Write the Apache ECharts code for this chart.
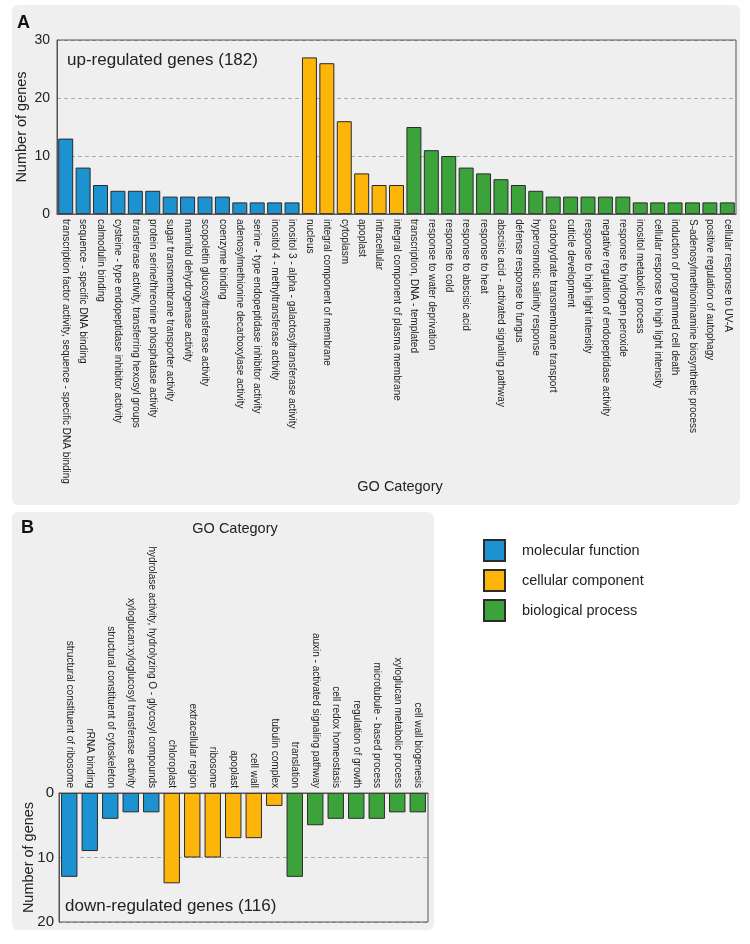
<!DOCTYPE html>
<html>
<head>
<meta charset="utf-8">
<script src="https://cdn.jsdelivr.net/npm/echarts@6/dist/echarts.min.js"></script>
<style>
html,body{margin:0;padding:0;background:#fff;}
#chart{width:750px;height:944px;}
</style>
</head>
<body>
<div id="chart"></div>
<script>
// ---- Panel A: up-regulated genes ----
var upMFCats = ['transcription factor activity, sequence - specific DNA binding','sequence - specific DNA binding','calmodulin binding','cysteine - type endopeptidase inhibitor activity','transferase activity, transferring hexosyl groups','protein serine/threonine phosphatase activity','sugar transmembrane transporter activity','mannitol dehydrogenase activity','scopoletin glucosyltransferase activity','coenzyme binding','adenosylmethionine decarboxylase activity','serine - type endopeptidase inhibitor activity','inositol 4 - methyltransferase activity','inositol 3 - alpha - galactosyltransferase activity'];
var upMFVals = [13,8,5,4,4,4,3,3,3,3,2,2,2,2];
var upCCCats = ['nucleus','integral component of membrane','cytoplasm','apoplast','intracellular','integral component of plasma membrane'];
var upCCVals = [27,26,16,7,5,5];
var upBPCats = ['transcription, DNA - templated','response to water deprivation','response to cold','response to abscisic acid','response to heat','abscisic acid - activated signaling pathway','defense response to fungus','hyperosmotic salinity response','carbohydrate transmembrane transport','cuticle development','response to high light intensity','negative regulation of endopeptidase activity','response to hydrogen peroxide','inositol metabolic process','cellular response to high light intensity','induction of programmed cell death','S-adenosylmethioninamine biosynthetic process','positive regulation of autophagy','cellular response to UV-A'];
var upBPVals = [15,11,10,8,7,6,5,4,3,3,3,3,3,2,2,2,2,2,2];
var upTicks = [0,10,20,30];

// ---- Panel B: down-regulated genes ----
var downMFCats = ['structural constituent of ribosome','rRNA binding','structural constituent of cytoskeleton','xyloglucan:xyloglucosyl transferase activity','hydrolase activity, hydrolyzing O - glycosyl compounds'];
var downMFVals = [13,9,4,3,3];
var downCCCats = ['chloroplast','extracellular region','ribosome','apoplast','cell wall','tubulin complex'];
var downCCVals = [14,10,10,7,7,2];
var downBPCats = ['translation','auxin - activated signaling pathway','cell redox homeostasis','regulation of growth','microtubule - based process','xyloglucan metabolic process','cell wall biogenesis'];
var downBPVals = [13,5,4,4,4,3,3];
var downTicks = [0,10,20];

var groupNames = ['molecular function','cellular component','biological process'];
var groupColors = ['#1d92d0','#fdb50a','#3ca33a'];

function pad(vals, before, after){
  var out = [];
  for (var i=0;i<before;i++) out.push(null);
  for (var j=0;j<vals.length;j++) out.push(vals[j]);
  for (var k=0;k<after;k++) out.push(null);
  return out;
}

var upCats = upMFCats.concat(upCCCats, upBPCats);
var downCats = downMFCats.concat(downCCCats, downBPCats);
var upSets = [upMFVals, upCCVals, upBPVals];
var downSets = [downMFVals, downCCVals, downBPVals];

var FONT = '"Liberation Sans", Arial, Helvetica, sans-serif';
var TXT = '#222';

var series = [];
function addSeries(sets, total, axisIdx, stackName, gap){
  var before = 0;
  for (var g=0; g<3; g++){
    var after = total - before - sets[g].length;
    series.push({
      type:'bar', name: groupNames[g], xAxisIndex: axisIdx, yAxisIndex: axisIdx,
      stack: stackName, barCategoryGap: gap,
      data: pad(sets[g], before, after),
      itemStyle: {color: groupColors[g], borderColor:'#2b2b2b', borderWidth:1},
      emphasis: {disabled:true}
    });
    before += sets[g].length;
  }
}
addSeries(upSets, upCats.length, 0, 'up', '14%');
addSeries(downSets, downCats.length, 1, 'down', '20%');

var chart = echarts.init(document.getElementById('chart'), null, {renderer:'canvas'});
chart.setOption({
  animation:false,
  textStyle:{fontFamily: FONT},
  graphic:[
    {type:'rect', shape:{x:12,y:5,width:728,height:500,r:6}, style:{fill:'#efefef'}, z:-10},
    {type:'rect', shape:{x:12,y:512,width:422,height:418,r:6}, style:{fill:'#efefef'}, z:-10},
    {type:'text', x:17, y:23, style:{text:'A', font:'bold 18px '+FONT, fill:'#111', textVerticalAlign:'middle'}},
    {type:'text', x:21, y:528, style:{text:'B', font:'bold 18px '+FONT, fill:'#111', textVerticalAlign:'middle'}},
    {type:'text', x:67, y:60, style:{text:'up-regulated genes (182)', font:'17px '+FONT, fill:TXT, textVerticalAlign:'middle'}},
    {type:'text', x:65, y:906, style:{text:'down-regulated genes (116)', font:'17px '+FONT, fill:TXT, textVerticalAlign:'middle'}},
    {type:'text', x:400, y:487, style:{text:'GO Category', font:'14.5px '+FONT, fill:TXT, textAlign:'center', textVerticalAlign:'middle'}},
    {type:'text', x:235, y:529, style:{text:'GO Category', font:'14.5px '+FONT, fill:TXT, textAlign:'center', textVerticalAlign:'middle'}}
  ],
  legend:{
    data: groupNames, orient:'vertical', left:483, top:539, padding:0,
    itemWidth:21, itemHeight:21, itemGap:7, icon:'rect',
    textStyle:{fontSize:14.5, color:TXT, fontFamily:FONT, padding:[0,0,0,12]}
  },
  grid:[
    {left:57, top:40, width:679, height:174, show:true, borderColor:'#555', borderWidth:1, backgroundColor:'transparent', z:10},
    {left:59, top:793, width:369, height:129, show:true, borderColor:'#555', borderWidth:1, backgroundColor:'transparent', z:10}
  ],
  xAxis:[
    {type:'category', gridIndex:0, data: upCats, position:'bottom',
     axisLine:{lineStyle:{color:'#555'}}, axisTick:{show:false},
     axisLabel:{interval:0, rotate:-90, fontSize:10, color:TXT, margin:5}},
    {type:'category', gridIndex:1, data: downCats, position:'top',
     axisLine:{lineStyle:{color:'#555'}}, axisTick:{show:false},
     axisLabel:{interval:0, rotate:-90, fontSize:10, color:TXT, margin:5}}
  ],
  yAxis:[
    {type:'value', gridIndex:0, min:upTicks[0], max:upTicks[upTicks.length-1], interval:10,
     name:'Number of genes', nameLocation:'middle', nameGap:28, nameMoveOverlap:false,
     nameTextStyle:{fontSize:14.5, color:TXT},
     axisLine:{show:true, lineStyle:{color:'#555'}}, axisTick:{show:false},
     axisLabel:{fontSize:14, color:TXT, margin:7},
     splitLine:{lineStyle:{type:[4,3], color:'#aaa'}}},
    {type:'value', gridIndex:1, inverse:true, min:downTicks[0], max:downTicks[downTicks.length-1], interval:10,
     name:'Number of genes', nameLocation:'middle', nameGap:23, nameMoveOverlap:false,
     nameTextStyle:{fontSize:14.5, color:TXT},
     axisLine:{show:true, lineStyle:{color:'#555'}}, axisTick:{show:false},
     axisLabel:{fontSize:15, color:TXT, margin:5},
     splitLine:{lineStyle:{type:[4,3], color:'#aaa'}}}
  ],
  series: series
});
</script>
</body>
</html>
